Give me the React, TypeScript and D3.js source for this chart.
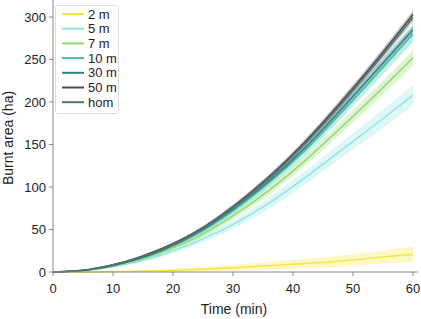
import React from "react";
import * as d3 from "d3";

const times = [0, 6, 12, 18, 24, 30, 36, 42, 48, 54, 60];
const seriesNames = ["2 m", "5 m", "7 m", "10 m", "30 m", "50 m", "hom"];
const seriesColors = ["#f7e43c", "#8fe3e3", "#8fd86a", "#3fbf9f", "#2e7f8c", "#4d4d4d", "#4f7575"];
const v2 = [0, 0.1, 0.5, 1.5, 3, 5, 7.5, 10, 13, 17, 21];
const v5 = [0, 2, 9, 20, 36, 56, 81, 111, 143, 175, 208];
const v7 = [0, 2.5, 10, 23, 41, 66, 96, 131, 170, 210, 252];
const v10 = [0, 2.5, 11, 25, 45, 72, 105, 143, 187, 233, 280];
const v30 = [0, 2.5, 11, 25, 46, 74, 107, 146, 191, 238, 285];
const v50 = [0, 3, 12, 27, 48, 77, 112, 153, 200, 250, 303];
const vHom = [0, 3, 12, 26, 47, 76, 110, 151, 197, 247, 299];
const s2 = [0, 0.3, 0.8, 1.5, 2.5, 3.5, 4.5, 5.5, 6.5, 7.5, 9];
const s5 = [0, 0.5, 1.5, 2.5, 4, 5, 6.5, 8, 9, 10.5, 12];
const s7 = [0, 0.5, 1.2, 2, 3, 4, 5, 6, 7, 8, 9];
const s10 = [0, 0.5, 1, 2, 3, 4, 5, 6, 7, 8, 9];
const s30 = [0, 0.5, 1, 1.5, 2.5, 3, 3.5, 4, 5, 5.5, 6];
const s50 = [0, 0.5, 1, 1.5, 2, 2.5, 3, 3.5, 4, 4.5, 5];
const sHom = [0, 0.5, 1, 1.5, 2, 2.5, 3, 3.5, 4, 4.5, 5];
const seriesValues = [v2, v5, v7, v10, v30, v50, vHom];
const seriesSpread = [s2, s5, s7, s10, s30, s50, sHom];
const xTicks = [0, 10, 20, 30, 40, 50, 60];
const yTicks = [0, 50, 100, 150, 200, 250, 300];

export default function App() {
  const W = 421, H = 319;
  const x = d3.scaleLinear().domain([0, 60]).range([53, 413]);
  const y = d3.scaleLinear().domain([0, 300]).range([272, 17]);
  const font = "'Liberation Sans', Arial, Helvetica, sans-serif";
  const line = d3.line<number>().x((_, i) => x(times[i])).y((d) => y(d)).curve(d3.curveMonotoneX);
  return (
    <svg width={W} height={H} style={{ position: "absolute", left: 0, top: 0, background: "#fff" }}>
      {seriesValues.map((vals, k) => {
        const sp = seriesSpread[k];
        const area = d3.area<number>()
          .x((_, i) => x(times[i]))
          .y0((d, i) => y(Math.max(0, d - sp[i])))
          .y1((d, i) => y(d + sp[i]))
          .curve(d3.curveMonotoneX);
        return <path key={"a" + k} d={area(vals) || ""} fill={seriesColors[k]} opacity={0.3} />;
      })}
      {seriesValues.map((vals, k) => (
        <path key={"l" + k} d={line(vals) || ""} fill="none" stroke={seriesColors[k]} strokeWidth={1.5} />
      ))}
      {/* axes */}
      <line x1={53} x2={53} y1={0} y2={272} stroke="#888" strokeWidth={1} />
      <line x1={53} x2={418} y1={272} y2={272} stroke="#888" strokeWidth={1} />
      {yTicks.map((t) => (
        <g key={"y" + t}>
          <line x1={49} x2={53} y1={y(t)} y2={y(t)} stroke="#888" />
          <text x={46} y={y(t) + 4.5} textAnchor="end" fontFamily={font} fontSize={13} fill="#222">{t}</text>
        </g>
      ))}
      {xTicks.map((t) => (
        <g key={"x" + t}>
          <line x1={x(t)} x2={x(t)} y1={272} y2={276} stroke="#888" />
          <text x={x(t)} y={293} textAnchor="middle" fontFamily={font} fontSize={13} fill="#222">{t}</text>
        </g>
      ))}
      <text x={234} y={314} textAnchor="middle" fontFamily={font} fontSize={14} fill="#222">Time (min)</text>
      <text transform="translate(13,138) rotate(-90)" textAnchor="middle" fontFamily={font} fontSize={14} fill="#222">Burnt area (ha)</text>
      {/* legend */}
      <rect x={55.5} y={5.5} width={63} height={108} fill="#fff" stroke="#ddd" rx={2} />
      {seriesNames.map((n, k) => (
        <g key={"lg" + k}>
          <line x1={62} x2={84} y1={14 + k * 14.7} y2={14 + k * 14.7} stroke={seriesColors[k]} strokeWidth={2} />
          <text x={88} y={18.5 + k * 14.7} fontFamily={font} fontSize={13} fill="#222">{n}</text>
        </g>
      ))}
    </svg>
  );
}
